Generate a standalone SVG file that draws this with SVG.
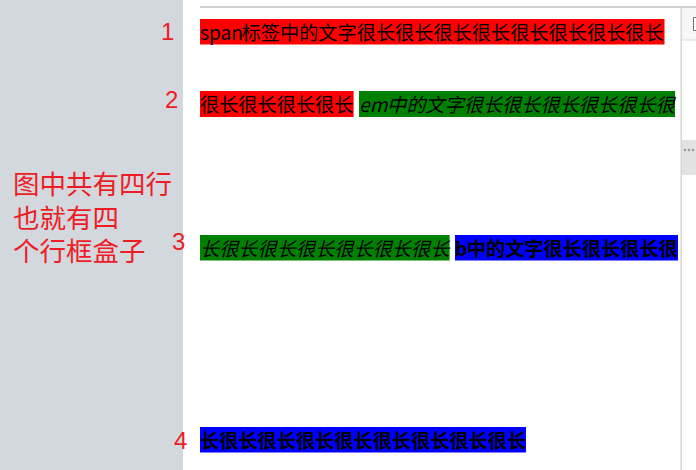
<svg xmlns="http://www.w3.org/2000/svg" width="696" height="470" viewBox="0 0 696 470">
<style>
.t{font-family:"Noto Sans CJK SC","Noto Sans",sans-serif;font-size:19.2px;fill:#000}
.i{font-style:italic}
.b{font-weight:bold}
.num{font-family:"Liberation Sans",Arial,sans-serif;font-size:24px;fill:#ee1d25}
.note{font-family:"Noto Sans CJK SC",sans-serif;font-size:26.5px;fill:#ee1d25}
.red{fill:#ff0000}.green{fill:#008000}.blue{fill:#0000ff}
</style>
<rect x="0" y="0" width="696" height="470" fill="#ffffff"/>
<g id="sidebar">
<rect x="0" y="0" width="183" height="470" fill="#d3d7de"/>
<text class="note" x="13" y="194">图中共有四行</text>
<text class="note" x="13" y="228">也就有四</text>
<text class="note" x="13" y="261">个行框盒子</text>
</g>
<g id="frame">
<rect x="200" y="6" width="496" height="2" fill="#d0d0d0"/>
<rect x="680.5" y="8" width="1.5" height="462" fill="#d6d6d6"/>
<rect x="682" y="8" width="14" height="32" fill="#f7f7f7"/>
<rect x="682" y="39.5" width="14" height="1" fill="#dddddd"/>
<rect x="693.5" y="17.5" width="6" height="13" fill="#ffffff" stroke="#777" stroke-width="1"/>
<rect x="682" y="140" width="14" height="35" fill="#e2e2e2"/>
<circle cx="685" cy="150" r="1.3" fill="#999"/>
<circle cx="689" cy="150" r="1.3" fill="#999"/>
<circle cx="693" cy="150" r="1.3" fill="#999"/>
</g>
<g id="line1">
<text class="num" x="161" y="40">1</text>
<rect class="red" x="200" y="19" width="464.5" height="25.5"/>
<text class="t" x="200" y="39.5">span</text>
<text class="t" x="241.6" y="39.5">标签中的文字很长很长很长很长很长很长很长很长</text>
</g>
<g id="line2">
<text class="num" x="165" y="108">2</text>
<rect class="red" x="200" y="91" width="153.6" height="26"/>
<text class="t" x="200" y="111.5">很长很长很长很长</text>
<rect class="green" x="359" y="91" width="316" height="26"/>
<text class="t i" x="359" y="111.5">em</text>
<text class="t i" x="387" y="111.5">中的文字很长很长很长很长很长很</text>
</g>
<g id="line3">
<text class="num" x="172" y="250">3</text>
<rect class="green" x="200" y="235" width="249.6" height="25.5"/>
<text class="t i" x="200" y="255.5">长很长很长很长很长很长很长</text>
<rect class="blue" x="455" y="235" width="223" height="25.5"/>
<text class="t b" x="455" y="255.5">b</text>
<text class="t b" x="466.8" y="255.5">中的文字很长很长很长很</text>
</g>
<g id="line4">
<text class="num" x="174" y="449">4</text>
<rect class="blue" x="200" y="427" width="326" height="25.5"/>
<text class="t b" x="200" y="447.5">长很长很长很长很长很长很长很长很长</text>
</g>
<g id="connectors"></g>
</svg>
